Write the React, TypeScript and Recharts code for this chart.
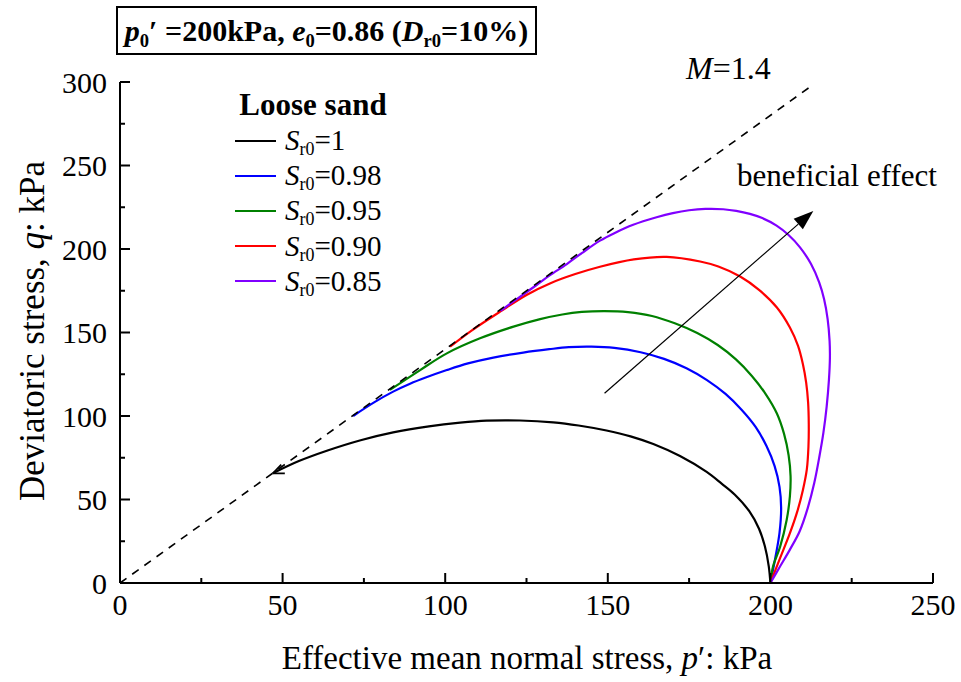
import React from 'react';
import { LineChart, Line, XAxis, YAxis, ReferenceLine, Legend } from 'recharts';

// ---------- data ----------
const pTicks = [0, 25, 50, 75, 100, 125, 150, 175, 200, 225, 250];
const qTicks = [0, 25, 50, 75, 100, 125, 150, 175, 200, 225, 250, 275, 300];

const srLabels = ['1', '0.98', '0.95', '0.90', '0.85'];
const srColors = ['#000000', '#0000ff', '#008000', '#ff0000', '#8000ff'];

const pSr100 = [200, 199.5, 198.3, 196.5, 193.5, 189, 185, 180.4, 172.2, 164, 157, 149.6, 141, 133.2, 123, 112.7, 104.6, 95, 84, 74, 63.6, 55, 47];
const qSr100 = [0, 10, 22, 32.5, 43, 53, 59.5, 66.5, 76, 83.2, 87.8, 91.3, 94.3, 96.2, 97.3, 97.2, 96, 93.8, 90.2, 85.5, 79.2, 73, 65.7];

const pSr098 = [200, 201.5, 202.8, 203.3, 202.8, 201.3, 198.8, 195.5, 191.2, 186.2, 180.5, 174.2, 167.3, 160.1, 152, 145, 138, 132, 124, 114.8, 107, 100.5, 94, 89.2, 84, 78, 71.7];
const qSr098 = [0, 15, 30, 45, 57.6, 70, 82, 93.3, 103.6, 113.2, 121.5, 128.6, 134.2, 138.2, 140.8, 141.5, 141.2, 140, 138, 135, 131.5, 127.5, 123, 119.3, 114.6, 108, 100];

const pSr095 = [200, 200.8, 203, 205, 206, 206.2, 205.6, 204.2, 202, 198.5, 194.3, 189.4, 183.8, 177.5, 170.6, 163.6, 156.2, 149, 142, 136, 129.2, 121, 110.7, 100.5, 92.3, 83];
const qSr095 = [0, 9.8, 21.8, 37.7, 52, 64, 76.5, 89.3, 101.5, 113.3, 124, 133.9, 142.5, 149.7, 155.5, 159.9, 162.2, 162.8, 162.3, 160.8, 158, 153.5, 146.5, 137.5, 127.5, 115.6];

const pSr090 = [200, 203, 206, 208.3, 210, 211.2, 211.7, 211.8, 211.6, 211, 210, 208.5, 206, 202, 196.5, 190.7, 184, 178.4, 168.1, 158, 147.6, 140, 132.2, 125, 116.9, 108, 101.5];
const qSr090 = [0, 15, 29.8, 43, 55.7, 68, 81.6, 95, 108, 120, 131, 142, 153, 165, 175.5, 183.5, 189.5, 192.5, 195.3, 193.8, 189.4, 185, 179.4, 172.5, 162.5, 151, 141.5];

const pSr085 = [200, 203, 206, 209, 211.5, 213.5, 215, 216.3, 217.3, 218, 218.3, 218.2, 217.6, 216.5, 215, 212.5, 209.1, 205.5, 201.9, 197.5, 193.7, 189.5, 185.5, 180, 175, 170, 165, 157.8, 152, 147.6, 142, 137.4, 132, 128, 122, 117];
const qSr085 = [0, 10, 20, 31, 45, 60, 75, 90, 105.6, 121.6, 135, 145, 158, 170, 180, 191, 201, 208.5, 214, 218.5, 221, 222.8, 223.8, 224, 223.2, 221.5, 219, 214.5, 209.5, 205, 197.5, 191, 184, 178.3, 170, 163];

// critical state line M = 1.4
const cslP = [0, 213];
const cslQ = [0, 298.2];

// "beneficial effect" arrow
const arrowP = [149, 213.2];
const arrowQ = [113.6, 222.8];

// arrowhead at end of Sr0=1 path
const tipP = [53.5, 47];
const tipQ = [71, 65.7];

const zip = (ps: number[], qs: number[]) => ps.map((p, i) => ({ p, q: qs[i] }));

const series = [
  { label: srLabels[0], color: srColors[0], data: zip(pSr100, qSr100) },
  { label: srLabels[1], color: srColors[1], data: zip(pSr098, qSr098) },
  { label: srLabels[2], color: srColors[2], data: zip(pSr095, qSr095) },
  { label: srLabels[3], color: srColors[3], data: zip(pSr090, qSr090) },
  { label: srLabels[4], color: srColors[4], data: zip(pSr085, qSr085) },
];
const cslData = zip(cslP, cslQ);

const FONT = '"Liberation Serif", "Times New Roman", serif';

// centripetal Catmull-Rom curve factory (parametric, handles non-monotone x)
const catmullRom = (context: any) => {
  let pts: number[][] = [];
  return {
    areaStart() {},
    areaEnd() {},
    lineStart() {
      pts = [];
    },
    point(x: number, y: number) {
      pts.push([+x, +y]);
    },
    lineEnd() {
      const n = pts.length;
      if (!n) return;
      context.moveTo(pts[0][0], pts[0][1]);
      const eps = 1e-9;
      for (let i = 0; i < n - 1; i++) {
        const p0 = pts[i > 0 ? i - 1 : i];
        const p1 = pts[i];
        const p2 = pts[i + 1];
        const p3 = pts[i + 2 < n ? i + 2 : i + 1];
        const d01 = Math.hypot(p1[0] - p0[0], p1[1] - p0[1]);
        const d12 = Math.hypot(p2[0] - p1[0], p2[1] - p1[1]);
        const d23 = Math.hypot(p3[0] - p2[0], p3[1] - p2[1]);
        const l01a = Math.sqrt(d01), l12a = Math.sqrt(d12), l23a = Math.sqrt(d23);
        let c1x = p1[0], c1y = p1[1], c2x = p2[0], c2y = p2[1];
        if (l01a > eps) {
          const a = 2 * d01 + 3 * l01a * l12a + d12;
          const nn = 3 * l01a * (l01a + l12a);
          c1x = (p1[0] * a - p0[0] * d12 + p2[0] * d01) / nn;
          c1y = (p1[1] * a - p0[1] * d12 + p2[1] * d01) / nn;
        }
        if (l23a > eps) {
          const b = 2 * d23 + 3 * l23a * l12a + d12;
          const m = 3 * l23a * (l23a + l12a);
          c2x = (p2[0] * b + p1[0] * d23 - p3[0] * d12) / m;
          c2y = (p2[1] * b + p1[1] * d23 - p3[1] * d12) / m;
        }
        context.bezierCurveTo(c1x, c1y, c2x, c2y, p2[0], p2[1]);
      }
    },
  };
};

const XTick = (props: any) => {
  const { x, y, payload } = props;
  const v = payload.value;
  const major = v % 50 === 0;
  return (
    <g>
      <line x1={x} y1={y} x2={x} y2={y - (major ? 10 : 5)} stroke="#000" strokeWidth={2} />
      {major && (
        <text x={x} y={y + 32} textAnchor="middle" fontSize={30} fontFamily={FONT} fill="#000">
          {v}
        </text>
      )}
    </g>
  );
};

const YTick = (props: any) => {
  const { x, y, payload } = props;
  const v = payload.value;
  const major = v % 50 === 0;
  return (
    <g>
      <line x1={x} y1={y} x2={x + (major ? 10 : 5)} y2={y} stroke="#000" strokeWidth={2} />
      {major && (
        <text x={x - 13} y={y} dy="0.35em" textAnchor="end" fontSize={30} fontFamily={FONT} fill="#000">
          {v}
        </text>
      )}
    </g>
  );
};

const FilledArrow = (props: any) => {
  const { x1, y1, x2, y2 } = props;
  const ang = Math.atan2(y2 - y1, x2 - x1);
  const L = 20;
  const W = 7;
  const bx = x2 - L * Math.cos(ang);
  const by = y2 - L * Math.sin(ang);
  const px = -Math.sin(ang) * W;
  const py = Math.cos(ang) * W;
  return (
    <g>
      <line x1={x1} y1={y1} x2={bx} y2={by} stroke="#000" strokeWidth={1.2} />
      <polygon points={`${x2},${y2} ${bx + px},${by + py} ${bx - px},${by - py}`} fill="#000" />
    </g>
  );
};

const OpenArrow = (props: any) => {
  const { x1, y1, x2, y2 } = props;
  const ang = Math.atan2(y2 - y1, x2 - x1);
  const L = 12;
  const a1 = ang + Math.PI - 0.4;
  const a2 = ang + Math.PI + 0.4;
  return (
    <g stroke="#000" strokeWidth={1.8} fill="none">
      <line x1={x2} y1={y2} x2={x2 + L * Math.cos(a1)} y2={y2 + L * Math.sin(a1)} />
      <line x1={x2} y1={y2} x2={x2 + L * Math.cos(a2)} y2={y2 + L * Math.sin(a2)} />
    </g>
  );
};

const subStyle: React.CSSProperties = { fontSize: '0.62em', verticalAlign: '-0.3em', lineHeight: 0 };

const LegendContent = (props: any) => {
  const payload = (props.payload || [])
    .filter((e: any) => srLabels.includes(e.value))
    .slice()
    .sort((a: any, b: any) => srLabels.indexOf(a.value) - srLabels.indexOf(b.value));
  return (
    <div style={{ fontFamily: FONT, color: '#000' }}>
      <div style={{ height: 36, lineHeight: '36px', fontWeight: 'bold', fontSize: 31, width: 170, textAlign: 'center' }}>
        Loose sand
      </div>
      {payload.map((e: any, i: number) => (
        <div key={i} style={{ height: 35.2, display: 'flex', alignItems: 'center' }}>
          <div style={{ marginLeft: 7, width: 41, height: 2, background: e.color }} />
          <div style={{ marginLeft: 9, fontSize: 29, lineHeight: '35px', whiteSpace: 'nowrap' }}>
            <i>S</i>
            <span style={subStyle}>r0</span>={e.value}
          </div>
        </div>
      ))}
    </div>
  );
};

export default function App() {
  return (
    <div style={{ position: 'absolute', left: 0, top: 0, width: 961, height: 682, background: '#fff', fontFamily: FONT }}>
      <LineChart width={961} height={682} margin={{ top: 82, right: 28, left: 60, bottom: 69 }}>
        <XAxis
          xAxisId={0}
          type="number"
          dataKey="p"
          domain={[0, 250]}
          ticks={pTicks}
          interval={0}
          height={30}
          tickSize={0}
          tickMargin={0}
          tickLine={false}
          axisLine={{ stroke: '#000', strokeWidth: 2 }}
          tick={<XTick />}
        />
        <YAxis
          yAxisId={0}
          type="number"
          dataKey="q"
          domain={[0, 300]}
          ticks={qTicks}
          interval={0}
          width={60}
          tickSize={0}
          tickMargin={0}
          tickLine={false}
          axisLine={{ stroke: '#000', strokeWidth: 2 }}
          tick={<YTick />}
        />
        {series.map((s) => (
          <Line
            key={s.label}
            data={s.data}
            dataKey="q"
            name={s.label}
            type={catmullRom as any}
            stroke={s.color}
            strokeWidth={2.2}
            dot={false}
            activeDot={false}
            isAnimationActive={false}
          />
        ))}
        <Line
          data={cslData}
          dataKey="q"
          name="CSL"
          type="linear"
          stroke="#000"
          strokeWidth={1.6}
          strokeDasharray="8 7"
          dot={false}
          activeDot={false}
          legendType="none"
          isAnimationActive={false}
        />
        <ReferenceLine
          segment={[{ x: arrowP[0], y: arrowQ[0] }, { x: arrowP[1], y: arrowQ[1] }]}
          shape={<FilledArrow />}
          ifOverflow="visible"
        />
        <ReferenceLine
          segment={[{ x: tipP[0], y: tipQ[0] }, { x: tipP[1], y: tipQ[1] }]}
          shape={<OpenArrow />}
          ifOverflow="visible"
        />
        <Legend
          layout="vertical"
          align="center"
          verticalAlign="middle"
          wrapperStyle={{ left: 228, top: 87, width: 200 }}
          content={<LegendContent />}
        />
      </LineChart>

      {/* title box */}
      <div
        style={{
          position: 'absolute', left: 116, top: 6, width: 421, height: 49, boxSizing: 'border-box',
          border: '2px solid #000', display: 'flex', alignItems: 'center', justifyContent: 'center',
          fontWeight: 'bold', fontSize: 30, whiteSpace: 'nowrap', color: '#000',
        }}
      >
        <span>
          <i>p</i><span style={subStyle}>0</span>′ =200kPa, <i>e</i><span style={subStyle}>0</span>=0.86 (<i>D</i><span style={subStyle}>r0</span>=10%)
        </span>
      </div>

      {/* M=1.4 */}
      <div style={{ position: 'absolute', left: 686, top: 68, transform: 'translateY(-50%)', fontSize: 32, lineHeight: 1, whiteSpace: 'nowrap', color: '#000' }}>
        <i>M</i>=1.4
      </div>

      {/* beneficial effect */}
      <div style={{ position: 'absolute', left: 737, top: 175, transform: 'translateY(-50%)', fontSize: 31, lineHeight: 1, whiteSpace: 'nowrap', color: '#000' }}>
        beneficial effect
      </div>

      {/* axis titles */}
      <div style={{ position: 'absolute', left: 527, top: 658, transform: 'translate(-50%, -50%)', fontSize: 33, lineHeight: 1, whiteSpace: 'nowrap', color: '#000' }}>
        Effective mean normal stress, <i>p</i>′: kPa
      </div>
      <div style={{ position: 'absolute', left: 32, top: 331, transform: 'translate(-50%, -50%) rotate(-90deg)', fontSize: 35, lineHeight: 1, whiteSpace: 'nowrap', color: '#000' }}>
        Deviatoric stress, <i>q</i>: kPa
      </div>
    </div>
  );
}
